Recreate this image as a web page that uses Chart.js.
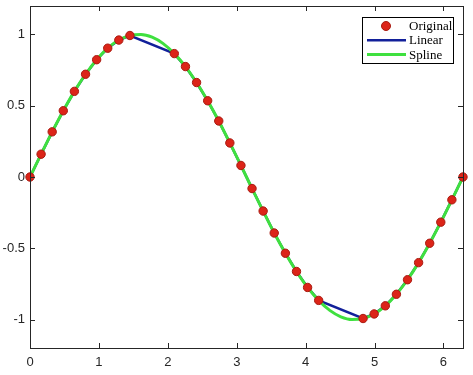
<!DOCTYPE html>
<html>
<head>
<meta charset="utf-8">
<script src="https://cdn.jsdelivr.net/npm/chart.js@4/dist/chart.umd.min.js"></script>
<style>
  body { margin: 0; background: #fff; }
  canvas { display: block; }
</style>
</head>
<body>
<canvas id="sine" width="473" height="375"></canvas>
<script>
// sample points (gaps near the peak and trough)
const origX = [0, 0.161, 0.322, 0.483, 0.644, 0.806, 0.967, 1.128, 1.289, 1.450,
  2.094, 2.256, 2.417, 2.578, 2.739, 2.900, 3.061, 3.222, 3.383, 3.544, 3.706, 3.867, 4.028, 4.189,
  4.833, 4.994, 5.156, 5.317, 5.478, 5.639, 5.800, 5.961, 6.122, 6.283];
const origY = [0, 0.160, 0.317, 0.465, 0.601, 0.721, 0.823, 0.904, 0.961, 0.993,
  0.866, 0.775, 0.663, 0.535, 0.393, 0.239, 0.081, -0.081, -0.239, -0.393, -0.535, -0.663, -0.775, -0.866,
  -0.993, -0.961, -0.904, -0.823, -0.721, -0.601, -0.465, -0.317, -0.160, 0];

// spline curve (incl. the gaps)
const splineX = [0, 0.161, 0.322, 0.483, 0.644, 0.806, 0.967, 1.128, 1.289, 1.450,
  1.611, 1.772, 1.933, 2.094, 2.256, 2.417, 2.578, 2.739, 2.900, 3.061, 3.222, 3.383, 3.544, 3.706,
  3.867, 4.028, 4.189, 4.350, 4.511, 4.672, 4.833, 4.994, 5.156, 5.317, 5.478, 5.639, 5.800, 5.961,
  6.122, 6.283];
const splineY = [0, 0.160, 0.317, 0.465, 0.601, 0.721, 0.823, 0.904, 0.961, 0.993,
  1.000, 0.981, 0.936, 0.866, 0.775, 0.663, 0.535, 0.393, 0.239, 0.081, -0.081, -0.239, -0.393, -0.535,
  -0.663, -0.775, -0.866, -0.936, -0.981, -1.000, -0.993, -0.961, -0.904, -0.823, -0.721, -0.601, -0.465, -0.317,
  -0.160, 0];

const xTicks = [0, 1, 2, 3, 4, 5, 6];
const yTicks = [-1, -0.5, 0, 0.5, 1];

const pts = (xs, ys) => xs.map((x, i) => ({x: x, y: ys[i]}));

const axisColor = "#262626";

// box around the axes + inward tick marks on all four sides
const boxPlugin = {
  id: "box",
  afterDatasetsDraw(chart) {
    const {ctx, chartArea: a, scales: {x, y}} = chart;
    ctx.save();
    ctx.strokeStyle = axisColor;
    ctx.lineWidth = 1;
    ctx.strokeRect(a.left + 0.5, a.top + 0.5, a.right - a.left, a.bottom - a.top);
    ctx.beginPath();
    xTicks.forEach(v => {
      const px = Math.round(x.getPixelForValue(v)) + 0.5;
      ctx.moveTo(px, a.bottom); ctx.lineTo(px, a.bottom - 5);
      ctx.moveTo(px, a.top); ctx.lineTo(px, a.top + 5);
    });
    yTicks.forEach(v => {
      const py = Math.round(y.getPixelForValue(v)) + 0.5;
      ctx.moveTo(a.left, py); ctx.lineTo(a.left + 5, py);
      ctx.moveTo(a.right, py); ctx.lineTo(a.right - 5, py);
    });
    ctx.stroke();
    ctx.restore();
  },
  afterDraw(chart) {
    // legend box, MATLAB style
    const ctx = chart.ctx;
    const ds = chart.data.datasets;
    const bx = 362, by = 17, bw = 91, bh = 46;
    ctx.save();
    ctx.fillStyle = "#fff";
    ctx.fillRect(bx, by, bw, bh);
    ctx.strokeStyle = "#000";
    ctx.lineWidth = 1;
    ctx.strokeRect(bx + 0.5, by + 0.5, bw, bh);
    ctx.font = "13px 'Liberation Serif', 'Times New Roman', serif";
    ctx.textBaseline = "middle";
    ctx.fillStyle = "#000";
    const order = [2, 0, 1];
    order.forEach((k, i) => {
      const d = ds[k];
      const ry = by + 9 + i * 14.3;
      if (k === 2) {
        ctx.beginPath();
        ctx.arc(386, ry, 4.5, 0, Math.PI * 2);
        ctx.fillStyle = d.backgroundColor;
        ctx.fill();
        ctx.strokeStyle = d.borderColor;
        ctx.stroke();
      } else {
        ctx.beginPath();
        ctx.moveTo(367, ry); ctx.lineTo(406, ry);
        ctx.strokeStyle = d.borderColor;
        ctx.lineWidth = d.borderWidth;
        ctx.stroke();
      }
      ctx.fillStyle = "#000";
      ctx.fillText(d.label, 409, ry + 0.5);
    });
    ctx.restore();
  }
};

const tickFont = {family: "'Liberation Sans', Arial, sans-serif", size: 13};

new Chart(document.getElementById("sine"), {
  type: "scatter",
  data: {
    datasets: [
      {
        label: "Linear",
        data: pts(origX, origY),
        showLine: true,
        borderColor: "#12209a",
        borderWidth: 2.5,
        pointRadius: 0,
        tension: 0,
        order: 3
      },
      {
        label: "Spline",
        data: pts(splineX, splineY),
        showLine: true,
        borderColor: "#3fe03f",
        borderWidth: 3,
        pointRadius: 0,
        cubicInterpolationMode: "monotone",
        order: 2
      },
      {
        label: "Original",
        data: pts(origX, origY),
        backgroundColor: "#dc2418",
        borderColor: "#a81a10",
        borderWidth: 1,
        pointRadius: 4.2,
        clip: false,
        order: 1
      }
    ]
  },
  options: {
    responsive: false,
    animation: false,
    events: [],
    layout: {padding: {top: 6, right: 10, left: 0, bottom: 0}},
    plugins: {legend: {display: false}, tooltip: {enabled: false}},
    scales: {
      x: {
        type: "linear",
        min: 0,
        max: 6.2832,
        grid: {display: false, drawTicks: false},
        border: {display: false},
        afterBuildTicks: s => { s.ticks = xTicks.map(v => ({value: v})); },
        afterFit: s => { s.height = 27; s.paddingLeft = 0; s.paddingRight = 0; },
        ticks: {color: axisColor, font: tickFont, padding: 7, maxRotation: 0,
                callback: v => String(v)}
      },
      y: {
        min: -1.2,
        max: 1.2,
        grid: {display: false, drawTicks: false},
        border: {display: false},
        afterBuildTicks: s => { s.ticks = yTicks.map(v => ({value: v})); },
        afterFit: s => { s.width = 30; s.paddingTop = 0; s.paddingBottom = 0; },
        ticks: {color: axisColor, font: tickFont, padding: 5,
                callback: v => String(v)}
      }
    }
  },
  plugins: [boxPlugin]
});
</script>
</body>
</html>
